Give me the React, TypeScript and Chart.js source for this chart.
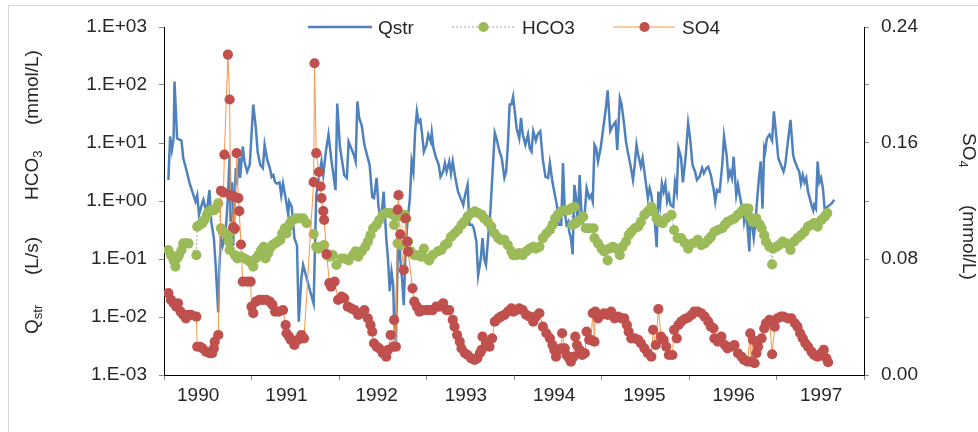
import React, { useEffect, useRef } from 'react';
import { Chart, registerables } from 'chart.js';

Chart.register(...registerables);

const FONT = "'Liberation Sans', Arial, sans-serif";
const TEXT = '#262626';

// ---- axis ticks / labels ----
const yearLabels = ['1990', '1991', '1992', '1993', '1994', '1995', '1996', '1997'];
const yearBounds = [1990, 1991, 1992, 1993, 1994, 1995, 1996, 1997, 1998];
const yearLabelPos = [1990.39, 1991.4, 1992.43, 1993.45, 1994.46, 1995.49, 1996.51, 1997.51];
const leftTickValues = [0.001, 0.01, 0.1, 1, 10, 100, 1000];
const leftTickLabels = ['1.E-03', '1.E-02', '1.E-01', '1.E+00', '1.E+01', '1.E+02', '1.E+03'];
const rightTickValues = [0, 0.04, 0.08, 0.12, 0.16, 0.2, 0.24];
const rightTickLabels = ['0.00', '', '0.08', '', '0.16', '', '0.24'];

// ---- Qstr (L/s), left log axis ----
const qstrX = [
  1990.05,1990.07,1990.09,1990.11,1990.12,1990.15,1990.20,1990.22,1990.25,1990.29,
  1990.33,1990.36,1990.38,1990.40,1990.43,1990.45,1990.47,1990.49,1990.52,1990.54,
  1990.57,1990.59,1990.62,1990.63,1990.65,1990.67,1990.69,1990.71,1990.73,1990.75,
  1990.76,1990.78,1990.79,1990.82,1990.83,1990.86,1990.87,1990.90,1990.92,1990.95,
  1990.98,1991.02,1991.05,1991.07,1991.10,1991.13,1991.15,1991.18,1991.21,1991.23,
  1991.25,1991.27,1991.29,1991.32,1991.34,1991.36,1991.39,1991.42,1991.43,1991.46,
  1991.49,1991.52,1991.54,1991.57,1991.59,1991.63,1991.67,1991.71,1991.74,1991.77,
  1991.80,1991.82,1991.85,1991.88,1991.91,1991.96,1991.98,1992.01,1992.03,1992.06,
  1992.09,1992.11,1992.14,1992.17,1992.19,1992.21,1992.23,1992.26,1992.29,1992.32,
  1992.35,1992.38,1992.40,1992.43,1992.45,1992.47,1992.49,1992.51,1992.54,1992.56,
  1992.58,1992.60,1992.62,1992.63,1992.65,1992.67,1992.68,1992.70,1992.72,1992.74,
  1992.76,1992.78,1992.81,1992.83,1992.85,1992.87,1992.89,1992.91,1992.93,1992.95,
  1992.97,1993.00,1993.02,1993.05,1993.06,1993.08,1993.11,1993.14,1993.16,1993.19,
  1993.21,1993.23,1993.26,1993.28,1993.30,1993.33,1993.36,1993.39,1993.42,1993.44,
  1993.47,1993.49,1993.52,1993.54,1993.57,1993.59,1993.62,1993.64,1993.66,1993.68,
  1993.71,1993.73,1993.76,1993.78,1993.80,1993.83,1993.86,1993.89,1993.91,1993.93,
  1993.95,1993.97,1993.99,1994.03,1994.06,1994.08,1994.10,1994.13,1994.16,1994.18,
  1994.20,1994.22,1994.25,1994.27,1994.30,1994.33,1994.36,1994.39,1994.41,1994.44,
  1994.46,1994.49,1994.51,1994.54,1994.56,1994.58,1994.60,1994.62,1994.63,1994.65,
  1994.67,1994.69,1994.71,1994.73,1994.75,1994.77,1994.79,1994.81,1994.83,1994.84,
  1994.86,1994.88,1994.90,1994.92,1994.94,1994.96,1994.99,1995.02,1995.05,1995.07,
  1995.10,1995.13,1995.16,1995.18,1995.21,1995.23,1995.26,1995.28,1995.30,1995.33,
  1995.36,1995.38,1995.40,1995.42,1995.45,1995.47,1995.49,1995.51,1995.53,1995.55,
  1995.57,1995.59,1995.61,1995.63,1995.65,1995.67,1995.69,1995.71,1995.73,1995.75,
  1995.77,1995.79,1995.82,1995.84,1995.86,1995.88,1995.91,1995.93,1995.96,1995.99,
  1996.01,1996.03,1996.04,1996.07,1996.09,1996.12,1996.15,1996.17,1996.20,1996.22,
  1996.25,1996.27,1996.28,1996.30,1996.32,1996.35,1996.38,1996.40,1996.43,1996.45,
  1996.47,1996.49,1996.51,1996.54,1996.56,1996.58,1996.60,1996.62,1996.63,1996.65,
  1996.67,1996.69,1996.70,1996.72,1996.74,1996.76,1996.78,1996.80,1996.82,1996.84,
  1996.86,1996.87,1996.89,1996.92,1996.95,1996.97,1997.00,1997.02,1997.05,1997.08,
  1997.10,1997.13,1997.16,1997.19,1997.21,1997.24,1997.26,1997.28,1997.30,1997.32,
  1997.34,1997.36,1997.38,1997.40,1997.42,1997.43,1997.45,1997.47,1997.49,1997.51,
  1997.53,1997.55,1997.58,1997.63,1997.66,
];
const qstrY = [
  2.3,13,7.6,12,115,12,11,5.5,3.7,2.1,
  1.35,0.98,1.26,0.58,0.85,1.05,0.79,0.69,1.55,0.44,
  0.23,0.079,0.012,0.06,0.23,0.17,0.23,0.39,1.12,6.2,
  0.44,2.1,0.17,3.7,1.9,5.5,2.5,8.7,4.8,3.2,
  4.2,46,18,7.1,4.2,3.7,9.3,5.1,3.7,2.6,
  2.8,2.1,2.0,2.1,1.26,2.0,1.12,0.58,0.98,0.79,
  0.23,0.17,0.0083,0.047,0.079,0.047,0.028,0.017,1.26,2.5,
  4.8,2.8,7.1,14,5.5,1.55,48,8.7,5.5,2.8,
  2.5,10.5,8.1,6.2,4.8,52,27,20,9.3,6.2,
  4.2,1.17,1.12,2.5,0.85,0.5,0.66,1.45,0.23,0.10,
  0.028,0.06,0.035,0.0072,0.0037,0.10,0.3,0.10,0.047,0.016,
  0.135,0.39,1.12,4.8,3.2,16,35,23,25,14,
  7.1,9.3,14,10.5,15,8.1,5.5,4.2,2.6,3.2,
  4.5,3.2,4.8,3.0,4.8,2.5,1.45,1.12,0.85,1.26,
  1.9,0.39,0.39,0.34,0.2,0.052,0.10,0.23,0.10,0.079,
  0.3,0.66,4.2,15,12,7.6,5.5,2.5,3.2,9.3,
  46,46,63,18,12,27,14,9.3,14,8.1,
  7.1,16,11,14,16,5.1,2.6,2.5,4.5,2.1,
  1.45,0.85,0.39,0.39,4.5,0.66,0.39,0.44,0.3,0.23,
  0.12,1.9,1.12,0.39,2.8,0.66,0.44,0.66,1.66,1.45,
  1.12,1.26,0.98,9.3,8.1,4.8,8.1,18,40,81,
  16,20,23,7.6,59,46,20,10.5,7.1,4.2,
  2.3,4.2,9.3,6.2,3.9,5.5,3.2,1.9,1.12,1.66,
  1.26,0.66,0.44,0.16,1.45,0.85,2.0,1.45,2.0,0.98,
  1.26,0.85,0.79,2.1,1.45,8.1,5.5,2.1,5.5,22,
  13,6.2,4.2,3.2,2.3,2.6,3.7,3.0,3.7,3.9,
  2.8,1.9,1.66,0.98,1.55,1.45,4.2,13,6.2,2.5,
  3.2,2.5,5.8,1.26,1.9,1.26,0.85,0.66,0.44,0.66,
  0.34,0.135,0.66,0.39,0.23,0.44,1.12,2.5,4.8,0.74,
  8.1,7.1,12,14,11,35,12,5.5,4.2,3.2,
  4.2,10.5,25,6.2,4.8,3.7,3.2,2.0,2.8,2.1,
  2.5,1.45,1.12,0.85,0.69,0.85,0.74,4.8,2.1,2.5,
  1.66,0.74,0.79,0.91,1.05,
];

// ---- HCO3 (mmol/L), left log axis ----
const hco3X = [
  1990.05,1990.08,1990.11,1990.13,1990.15,1990.17,1990.20,1990.22,1990.25,1990.28,
  1990.37,1990.38,1990.41,1990.44,1990.46,1990.49,1990.51,1990.54,1990.57,1990.59,
  1990.62,1990.65,1990.67,1990.70,1990.73,1990.74,1990.75,1990.77,1990.79,1990.81,
  1990.84,1990.88,1990.92,1990.96,1991.00,1991.02,1991.05,1991.08,1991.11,1991.14,
  1991.16,1991.19,1991.21,1991.24,1991.27,1991.30,1991.33,1991.35,1991.38,1991.40,
  1991.42,1991.44,1991.47,1991.51,1991.55,1991.59,1991.63,1991.71,1991.74,1991.77,
  1991.80,1991.83,1991.86,1991.89,1991.93,1991.97,1992.03,1992.06,1992.11,1992.16,
  1992.19,1992.22,1992.26,1992.30,1992.33,1992.36,1992.39,1992.43,1992.46,1992.50,
  1992.54,1992.58,1992.62,1992.63,1992.65,1992.67,1992.71,1992.73,1992.75,1992.77,
  1992.79,1992.82,1992.86,1992.90,1992.94,1992.97,1993.01,1993.03,1993.07,1993.13,
  1993.17,1993.21,1993.24,1993.28,1993.32,1993.36,1993.40,1993.43,1993.47,1993.51,
  1993.55,1993.59,1993.63,1993.66,1993.70,1993.74,1993.78,1993.82,1993.85,1993.89,
  1993.93,1993.97,1993.99,1994.03,1994.06,1994.10,1994.14,1994.18,1994.22,1994.25,
  1994.29,1994.33,1994.37,1994.41,1994.44,1994.47,1994.50,1994.54,1994.58,1994.62,
  1994.65,1994.67,1994.69,1994.71,1994.75,1994.79,1994.82,1994.86,1994.91,1994.92,
  1994.96,1995.00,1995.03,1995.07,1995.09,1995.13,1995.17,1995.21,1995.24,1995.28,
  1995.31,1995.34,1995.38,1995.42,1995.45,1995.49,1995.53,1995.57,1995.59,1995.63,
  1995.66,1995.70,1995.74,1995.80,1995.83,1995.87,1995.91,1995.95,1995.99,1996.04,
  1996.10,1996.14,1996.18,1996.22,1996.25,1996.29,1996.33,1996.38,1996.41,1996.44,
  1996.48,1996.52,1996.56,1996.60,1996.63,1996.68,1996.69,1996.73,1996.77,1996.81,
  1996.83,1996.86,1996.88,1996.92,1996.95,1996.96,1997.00,1997.03,1997.07,1997.11,
  1997.16,1997.20,1997.24,1997.28,1997.32,1997.36,1997.40,1997.43,1997.47,1997.51,
  1997.55,1997.58,
];
const hco3Y = [
  0.143,0.117,0.095,0.074,0.102,0.117,0.143,0.186,0.186,0.186,
  0.117,0.363,0.389,0.417,0.468,0.575,0.661,0.692,0.692,0.741,
  0.912,0.339,0.295,0.275,0.257,0.2,0.143,0.295,0.316,0.117,
  0.102,0.11,0.102,0.095,0.085,0.074,0.102,0.117,0.143,0.162,
  0.102,0.126,0.151,0.174,0.186,0.2,0.214,0.275,0.339,0.275,
  0.363,0.417,0.468,0.501,0.501,0.501,0.417,0.269,0.162,0.151,
  0.162,0.174,0.117,0.11,0.117,0.079,0.102,0.102,0.095,0.117,
  0.135,0.11,0.135,0.162,0.2,0.257,0.339,0.389,0.468,0.575,
  0.617,0.617,0.575,0.389,0.537,0.186,0.174,0.537,0.575,0.501,
  0.2,0.135,0.117,0.117,0.11,0.151,0.102,0.095,0.117,0.135,
  0.143,0.174,0.186,0.24,0.275,0.316,0.389,0.437,0.537,0.617,
  0.661,0.617,0.575,0.501,0.437,0.363,0.275,0.229,0.214,0.214,
  0.174,0.135,0.117,0.117,0.126,0.117,0.135,0.151,0.162,0.151,
  0.162,0.229,0.275,0.316,0.389,0.501,0.575,0.661,0.692,0.692,
  0.741,0.389,0.794,0.417,0.468,0.537,0.339,0.339,0.339,0.229,
  0.186,0.151,0.135,0.095,0.151,0.162,0.151,0.117,0.162,0.2,
  0.257,0.295,0.339,0.363,0.437,0.575,0.661,0.794,0.661,0.501,
  0.437,0.417,0.501,0.575,0.316,0.229,0.229,0.19,0.151,0.186,
  0.214,0.174,0.186,0.214,0.24,0.295,0.316,0.339,0.389,0.437,
  0.468,0.501,0.575,0.661,0.741,0.741,0.537,0.437,0.501,0.389,
  0.339,0.257,0.2,0.162,0.081,0.151,0.162,0.174,0.2,0.186,
  0.143,0.2,0.229,0.257,0.295,0.363,0.389,0.417,0.363,0.468,
  0.537,0.617,
];

// ---- SO4 (mmol/L), right linear axis ----
const so4X = [
  1990.05,1990.08,1990.11,1990.14,1990.16,1990.19,1990.22,1990.25,1990.27,1990.31,
  1990.37,1990.38,1990.41,1990.44,1990.48,1990.52,1990.55,1990.57,1990.58,1990.62,
  1990.65,1990.68,1990.69,1990.73,1990.75,1990.76,1990.79,1990.80,1990.81,1990.83,
  1990.85,1990.86,1990.88,1990.90,1990.95,1990.99,1991.00,1991.02,1991.05,1991.09,
  1991.13,1991.17,1991.21,1991.24,1991.27,1991.31,1991.36,1991.39,1991.40,1991.43,
  1991.45,1991.49,1991.53,1991.57,1991.60,1991.71,1991.72,1991.74,1991.77,1991.79,
  1991.80,1991.82,1991.83,1991.86,1991.89,1991.91,1991.95,1991.99,1992.03,1992.06,
  1992.10,1992.14,1992.18,1992.22,1992.25,1992.29,1992.33,1992.36,1992.38,1992.40,
  1992.43,1992.46,1992.50,1992.54,1992.56,1992.59,1992.62,1992.63,1992.65,1992.67,
  1992.68,1992.70,1992.74,1992.76,1992.78,1992.79,1992.84,1992.86,1992.89,1992.92,
  1992.95,1993.00,1993.03,1993.07,1993.11,1993.15,1993.19,1993.23,1993.26,1993.30,
  1993.32,1993.35,1993.38,1993.40,1993.44,1993.47,1993.51,1993.55,1993.58,1993.61,
  1993.63,1993.64,1993.68,1993.72,1993.75,1993.78,1993.82,1993.85,1993.89,1993.93,
  1993.97,1993.99,1994.03,1994.06,1994.10,1994.14,1994.18,1994.22,1994.25,1994.29,
  1994.33,1994.37,1994.41,1994.44,1994.46,1994.48,1994.51,1994.54,1994.55,1994.58,
  1994.60,1994.63,1994.65,1994.68,1994.70,1994.72,1994.75,1994.78,1994.81,1994.83,
  1994.86,1994.88,1994.90,1994.92,1994.93,1994.96,1995.00,1995.03,1995.07,1995.11,
  1995.15,1995.19,1995.23,1995.26,1995.29,1995.31,1995.34,1995.38,1995.42,1995.45,
  1995.49,1995.53,1995.57,1995.59,1995.62,1995.65,1995.68,1995.71,1995.74,1995.77,
  1995.81,1995.83,1995.86,1995.88,1995.91,1995.95,1995.99,1996.03,1996.06,1996.10,
  1996.14,1996.18,1996.22,1996.25,1996.28,1996.29,1996.33,1996.37,1996.41,1996.44,
  1996.48,1996.52,1996.56,1996.60,1996.63,1996.67,1996.70,1996.71,1996.73,1996.75,
  1996.77,1996.79,1996.83,1996.86,1996.88,1996.92,1996.95,1996.98,1997.01,1997.05,
  1997.08,1997.13,1997.17,1997.21,1997.24,1997.27,1997.30,1997.33,1997.36,1997.40,
  1997.43,1997.47,1997.51,1997.54,1997.57,1997.59,
];
const so4Y = [
  0.0564,0.0518,0.0495,0.0471,0.0495,0.0437,0.0414,0.0391,0.0414,0.0414,
  0.0402,0.0195,0.0195,0.0184,0.0161,0.015,0.015,0.0184,0.023,0.0276,
  0.127,0.126,0.152,0.221,0.19,0.124,0.102,0.123,0.101,0.153,
  0.122,0.113,0.09,0.0644,0.0644,0.0644,0.0471,0.0426,0.0506,0.0518,
  0.0518,0.0518,0.0506,0.0483,0.0437,0.0437,0.0448,0.0345,0.0288,0.0264,
  0.0242,0.0207,0.0242,0.0276,0.0253,0.133,0.215,0.153,0.14,0.13,
  0.122,0.113,0.107,0.0833,0.0633,0.0609,0.0644,0.0518,0.054,0.0529,
  0.0471,0.046,0.0448,0.0414,0.0426,0.0448,0.0391,0.0345,0.0299,0.0219,
  0.0195,0.0184,0.015,0.0126,0.0173,0.0276,0.0195,0.038,0.0195,0.114,
  0.124,0.097,0.0725,0.108,0.092,0.085,0.0598,0.0506,0.0471,0.0437,
  0.0448,0.0448,0.0448,0.0448,0.0471,0.0471,0.0495,0.0448,0.0448,0.038,
  0.0333,0.0276,0.023,0.0184,0.015,0.0138,0.0115,0.0104,0.0115,0.015,
  0.0173,0.0264,0.0219,0.0195,0.0253,0.0368,0.0391,0.0402,0.0414,0.0437,
  0.046,0.0437,0.0448,0.046,0.0448,0.0414,0.0402,0.0368,0.0402,0.0426,
  0.0333,0.0288,0.0253,0.0207,0.0173,0.0126,0.0173,0.0184,0.0288,0.0184,
  0.0138,0.0115,0.0092,0.0126,0.0264,0.0207,0.0173,0.0138,0.015,0.0299,
  0.0242,0.0242,0.0426,0.023,0.0437,0.0391,0.0414,0.0426,0.0414,0.0437,
  0.0391,0.0402,0.0391,0.0391,0.0345,0.0299,0.0253,0.0253,0.0242,0.0219,
  0.0184,0.015,0.0126,0.0311,0.0207,0.0455,0.0264,0.0242,0.0195,0.0138,
  0.0138,0.0311,0.0253,0.0345,0.0368,0.0385,0.0396,0.0414,0.0437,0.0437,
  0.0426,0.0402,0.0368,0.0333,0.0322,0.0253,0.023,0.0264,0.0207,0.0184,
  0.0195,0.0207,0.015,0.0126,0.0104,0.0092,0.0288,0.0092,0.0242,0.0081,
  0.015,0.0195,0.0253,0.0322,0.0357,0.038,0.0143,0.0333,0.0391,0.0402,
  0.0402,0.0391,0.0391,0.0357,0.0333,0.0288,0.0253,0.0219,0.0195,0.0161,
  0.0138,0.0126,0.015,0.0173,0.0115,0.0088,
];

const QSTR_COLOR = '#4F81BD';
const HCO3_COLOR = '#9BBB59';
const HCO3_LINE = '#7F7F7F';
const SO4_COLOR = '#C0504D';
const SO4_LINE = '#F79646';
const MARKER_R = 5.1;

function pts(xs: number[], ys: number[]) {
  const n = Math.min(xs.length, ys.length);
  const out: { x: number; y: number }[] = [];
  for (let i = 0; i < n; i++) out.push({ x: xs[i], y: ys[i] });
  return out;
}

function near(a: number, b: number) {
  return Math.abs(a - b) < 1e-6 * Math.max(1e-9, Math.abs(b)) + 1e-9;
}

const decorPlugin = {
  id: 'decor',
  afterDraw(chart: any) {
    const ctx: CanvasRenderingContext2D = chart.ctx;
    const big = `19px ${FONT}`;
    const small = `13px ${FONT}`;
    ctx.save();
    ctx.fillStyle = TEXT;
    ctx.textBaseline = 'alphabetic';
    ctx.textAlign = 'left';

    const rot = (text: string, x: number, y: number, angle: number, font: string) => {
      ctx.save();
      ctx.font = font;
      ctx.translate(x, y);
      ctx.rotate(angle);
      ctx.fillText(text, 0, 0);
      ctx.restore();
    };
    const w = (text: string, font: string) => {
      ctx.font = font;
      return ctx.measureText(text).width;
    };

    // left title (reads upward)
    const up = -Math.PI / 2;
    rot('Q', 38, 334, up, big);
    rot('str', 42, 334 - w('Q', big), up, small);
    rot('(L/s)', 38, 275, up, big);
    rot('HCO', 38, 200, up, big);
    rot('3', 42, 200 - w('HCO', big), up, small);
    rot('(mmol/L)', 38, 125, up, big);

    // right title (reads downward)
    const down = Math.PI / 2;
    rot('SO', 963, 133, down, big);
    rot('4', 959, 133 + w('SO', big), down, small);
    rot('(mmol/L)', 963, 205, down, big);

    // legend
    const ly = 27;
    ctx.font = big;
    ctx.strokeStyle = QSTR_COLOR;
    ctx.lineWidth = 2.5;
    ctx.beginPath();
    ctx.moveTo(308, ly);
    ctx.lineTo(372, ly);
    ctx.stroke();
    ctx.fillText('Qstr', 378, 34);

    ctx.strokeStyle = HCO3_LINE;
    ctx.lineWidth = 0.75;
    ctx.setLineDash([2, 2]);
    ctx.beginPath();
    ctx.moveTo(452, ly);
    ctx.lineTo(515, ly);
    ctx.stroke();
    ctx.setLineDash([]);
    ctx.fillStyle = HCO3_COLOR;
    ctx.beginPath();
    ctx.arc(483.5, ly, MARKER_R, 0, Math.PI * 2);
    ctx.fill();
    ctx.fillStyle = TEXT;
    ctx.fillText('HCO3', 522, 34);

    ctx.strokeStyle = SO4_LINE;
    ctx.lineWidth = 1;
    ctx.beginPath();
    ctx.moveTo(613, ly);
    ctx.lineTo(675, ly);
    ctx.stroke();
    ctx.fillStyle = SO4_COLOR;
    ctx.beginPath();
    ctx.arc(644.5, ly, MARKER_R, 0, Math.PI * 2);
    ctx.fill();
    ctx.fillStyle = TEXT;
    ctx.fillText('SO4', 682, 34);
    ctx.restore();
  },
};

export default function App() {
  const ref = useRef<HTMLCanvasElement | null>(null);

  useEffect(() => {
    if (!ref.current) return;
    const tickGray = '#8C8C8C';
    const axisBorder = { display: true, color: '#000000', width: 1 };
    const tickFont = { family: FONT, size: 19 };

    const chart = new Chart(ref.current, {
      type: 'line',
      data: {
        datasets: [
          {
            label: 'SO4',
            data: pts(so4X, so4Y),
            yAxisID: 'y2',
            borderColor: SO4_LINE,
            borderWidth: 1,
            pointRadius: MARKER_R,
            pointBorderWidth: 0,
            pointBackgroundColor: SO4_COLOR,
            pointBorderColor: SO4_COLOR,
            order: 0,
          },
          {
            label: 'HCO3',
            data: pts(hco3X, hco3Y),
            yAxisID: 'y',
            borderColor: HCO3_LINE,
            borderWidth: 0.75,
            borderDash: [2, 2],
            pointRadius: MARKER_R,
            pointBorderWidth: 0,
            pointBackgroundColor: HCO3_COLOR,
            pointBorderColor: HCO3_COLOR,
            order: 1,
          },
          {
            label: 'Qstr',
            data: pts(qstrX, qstrY),
            yAxisID: 'y',
            borderColor: QSTR_COLOR,
            borderWidth: 2.5,
            pointRadius: 0,
            order: 2,
          },
        ] as any,
      },
      options: {
        responsive: false,
        animation: false,
        events: [],
        layout: { padding: { top: 27, left: 0, right: 0, bottom: 0 } },
        plugins: { legend: { display: false }, tooltip: { enabled: false }, title: { display: false } },
        scales: {
          x: {
            type: 'linear',
            min: 1990,
            max: 1998,
            afterBuildTicks: (s: any) => {
              s.ticks = [...yearBounds, ...yearLabelPos].sort((a, b) => a - b).map((v) => ({ value: v }));
            },
            afterFit: (s: any) => {
              s.height = 57;
            },
            ticks: {
              autoSkip: false,
              maxRotation: 0,
              minRotation: 0,
              padding: 4,
              color: TEXT,
              font: tickFont,
              callback: (v: any) => {
                const i = yearLabelPos.findIndex((p) => near(p, Number(v)));
                return i >= 0 ? yearLabels[i] : '';
              },
            },
            grid: {
              drawOnChartArea: false,
              drawTicks: true,
              tickLength: 5,
              tickColor: (c: any) =>
                c.tick && yearBounds.some((b) => near(b, c.tick.value)) ? tickGray : 'rgba(0,0,0,0)',
            },
            border: axisBorder,
          },
          y: {
            type: 'logarithmic',
            position: 'left',
            min: 0.001,
            max: 1000,
            afterBuildTicks: (s: any) => {
              s.ticks = leftTickValues.map((v) => ({ value: v }));
            },
            afterFit: (s: any) => {
              s.width = 164;
            },
            ticks: {
              padding: 12,
              color: TEXT,
              font: tickFont,
              callback: (v: any) => {
                const i = leftTickValues.findIndex((p) => near(p, Number(v)));
                return i >= 0 ? leftTickLabels[i] : '';
              },
            },
            grid: { drawOnChartArea: false, drawTicks: true, tickLength: 5, tickColor: tickGray },
            border: axisBorder,
          },
          y2: {
            type: 'linear',
            position: 'right',
            min: 0,
            max: 0.24,
            afterBuildTicks: (s: any) => {
              s.ticks = rightTickValues.map((v) => ({ value: v }));
            },
            afterFit: (s: any) => {
              s.width = 114;
            },
            ticks: {
              padding: 12,
              color: TEXT,
              font: tickFont,
              callback: (v: any) => {
                const i = rightTickValues.findIndex((p) => Math.abs(p - Number(v)) < 1e-9);
                return i >= 0 ? rightTickLabels[i] : '';
              },
            },
            grid: { drawOnChartArea: false, drawTicks: true, tickLength: 5, tickColor: tickGray },
            border: axisBorder,
          },
        },
      } as any,
      plugins: [decorPlugin],
    });
    return () => chart.destroy();
  }, []);

  return (
    <div style={{ position: 'fixed', left: 0, top: 0, width: 978, height: 432, overflow: 'hidden', background: '#ffffff' }}>
      <div
        style={{
          position: 'absolute',
          left: 8,
          top: 5,
          width: 1000,
          height: 500,
          borderLeft: '1px solid #D9D9D9',
          borderTop: '1px solid #D9D9D9',
        }}
      />
      <canvas ref={ref} width={978} height={432} style={{ position: 'absolute', left: 0, top: 0 }} />
    </div>
  );
}
